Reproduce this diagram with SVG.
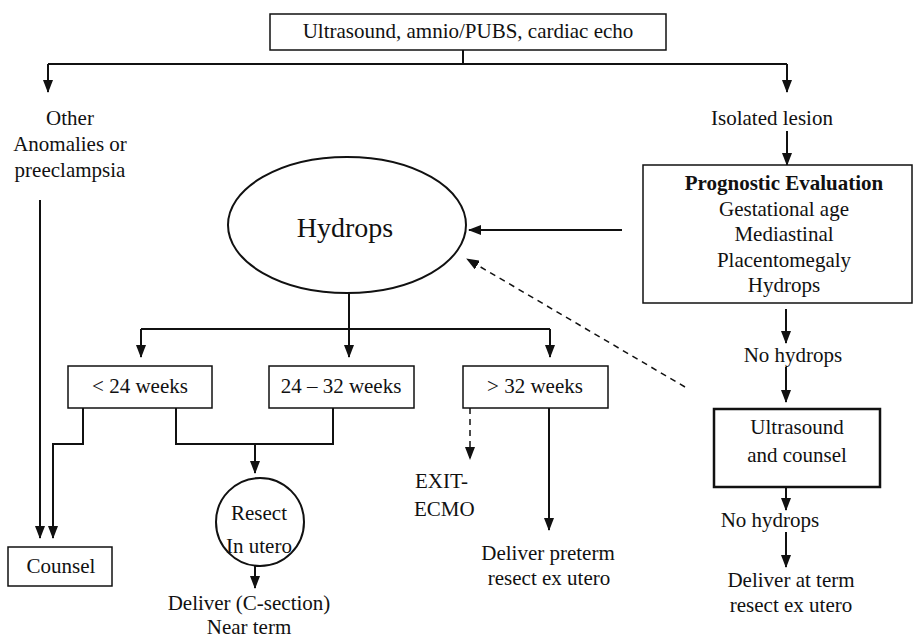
<svg xmlns="http://www.w3.org/2000/svg" width="915" height="639" viewBox="0 0 915 639">
<style>
text{font-family:"Liberation Serif","Times New Roman",serif;font-size:21px;fill:#111;text-anchor:middle}
.b{font-weight:bold}
.box{fill:#fff;stroke:#111;stroke-width:1.5}
.thick{stroke-width:2.5}
.c{fill:none;stroke:#111;stroke-width:2}
.a{marker-end:url(#ah)}
.d{stroke-dasharray:6 5;stroke-width:1.5}
</style>
<defs>
<marker id="ah" viewBox="0 0 13 10" refX="12" refY="5" markerWidth="13" markerHeight="10" markerUnits="userSpaceOnUse" orient="auto">
<path d="M0,0 L13,5 L0,10 z" fill="#111"/>
</marker>
</defs>
<g id="connectors">
<path class="c" d="M463,50 V64"/>
<path class="c" d="M48,64 H787"/>
<path class="c a" d="M48,64 V92"/>
<path class="c a" d="M787,64 V92"/>
<path class="c a" d="M787,131 V165"/>
<path class="c a" d="M622,230 H469"/>
<path class="c a d" d="M685,387 L467,259"/>
<path class="c" d="M349,293 V329"/>
<path class="c" d="M141,329 H550"/>
<path class="c a" d="M141,329 V357"/>
<path class="c a" d="M349,329 V357"/>
<path class="c a" d="M550,329 V357"/>
<path class="c a" d="M40,200 V538"/>
<path class="c a" d="M83,408 V444 H53 V538"/>
<path class="c" d="M176,408 V444 H333 V408"/>
<path class="c a" d="M255,444 V473"/>
<path class="c a" d="M255,566 V588"/>
<path class="c a d" d="M470,408 V459"/>
<path class="c a" d="M549,408 V530"/>
<path class="c a" d="M786,309 V343"/>
<path class="c a" d="M786,367 V402"/>
<path class="c a" d="M786,487 V510"/>
<path class="c a" d="M786,532 V567"/>
</g>
<g id="top">
<rect class="box" x="270" y="14" width="396" height="36"/>
<text x="468" y="38">Ultrasound, amnio/PUBS, cardiac echo</text>
</g>
<g id="other">
<text x="70" y="125">Other</text>
<text x="70" y="151">Anomalies or</text>
<text x="70" y="177">preeclampsia</text>
</g>
<g id="isolated">
<text x="772" y="125">Isolated lesion</text>
</g>
<g id="prognostic">
<rect class="box" x="643" y="165" width="269" height="138"/>
<text class="b" x="784" y="190">Prognostic Evaluation</text>
<text x="784" y="216">Gestational age</text>
<text x="784" y="241">Mediastinal</text>
<text x="784" y="267">Placentomegaly</text>
<text x="784" y="292">Hydrops</text>
</g>
<g id="hydrops">
<ellipse cx="347" cy="225" rx="119" ry="68" fill="#fff" stroke="#111" stroke-width="2"/>
<text x="345" y="237" style="font-size:28px">Hydrops</text>
</g>
<g id="lt24">
<rect class="box" x="68" y="366" width="144" height="42"/>
<text x="140" y="393">&lt; 24 weeks</text>
</g>
<g id="w24-32">
<rect class="box" x="269" y="366" width="145" height="42"/>
<text x="341" y="393">24 – 32 weeks</text>
</g>
<g id="gt32">
<rect class="box" x="463" y="366" width="145" height="42"/>
<text x="535" y="393">&gt; 32 weeks</text>
</g>
<g id="counsel">
<rect class="box" x="8" y="547" width="104" height="39" stroke-width="2"/>
<text x="61" y="573">Counsel</text>
</g>
<g id="resect">
<circle cx="260" cy="522" r="44" fill="#fff" stroke="#111" stroke-width="2"/>
<text x="259" y="520">Resect</text>
<text x="259" y="553">In utero</text>
</g>
<g id="deliver-cs">
<text x="249" y="610">Deliver (C-section)</text>
<text x="249" y="634">Near term</text>
</g>
<g id="exit">
<text x="415" y="488" style="text-anchor:start">EXIT-</text>
<text x="414" y="516" style="text-anchor:start">ECMO</text>
</g>
<g id="deliver-preterm">
<text x="548" y="560">Deliver preterm</text>
<text x="549" y="585">resect ex utero</text>
</g>
<g id="nohydrops1">
<text x="793" y="362">No hydrops</text>
</g>
<g id="us-counsel">
<rect class="box thick" x="714" y="409" width="166" height="78"/>
<text x="797" y="434">Ultrasound</text>
<text x="797" y="462">and counsel</text>
</g>
<g id="nohydrops2">
<text x="770" y="527">No hydrops</text>
</g>
<g id="deliver-term">
<text x="791" y="587">Deliver at term</text>
<text x="791" y="612">resect ex utero</text>
</g>
</svg>
